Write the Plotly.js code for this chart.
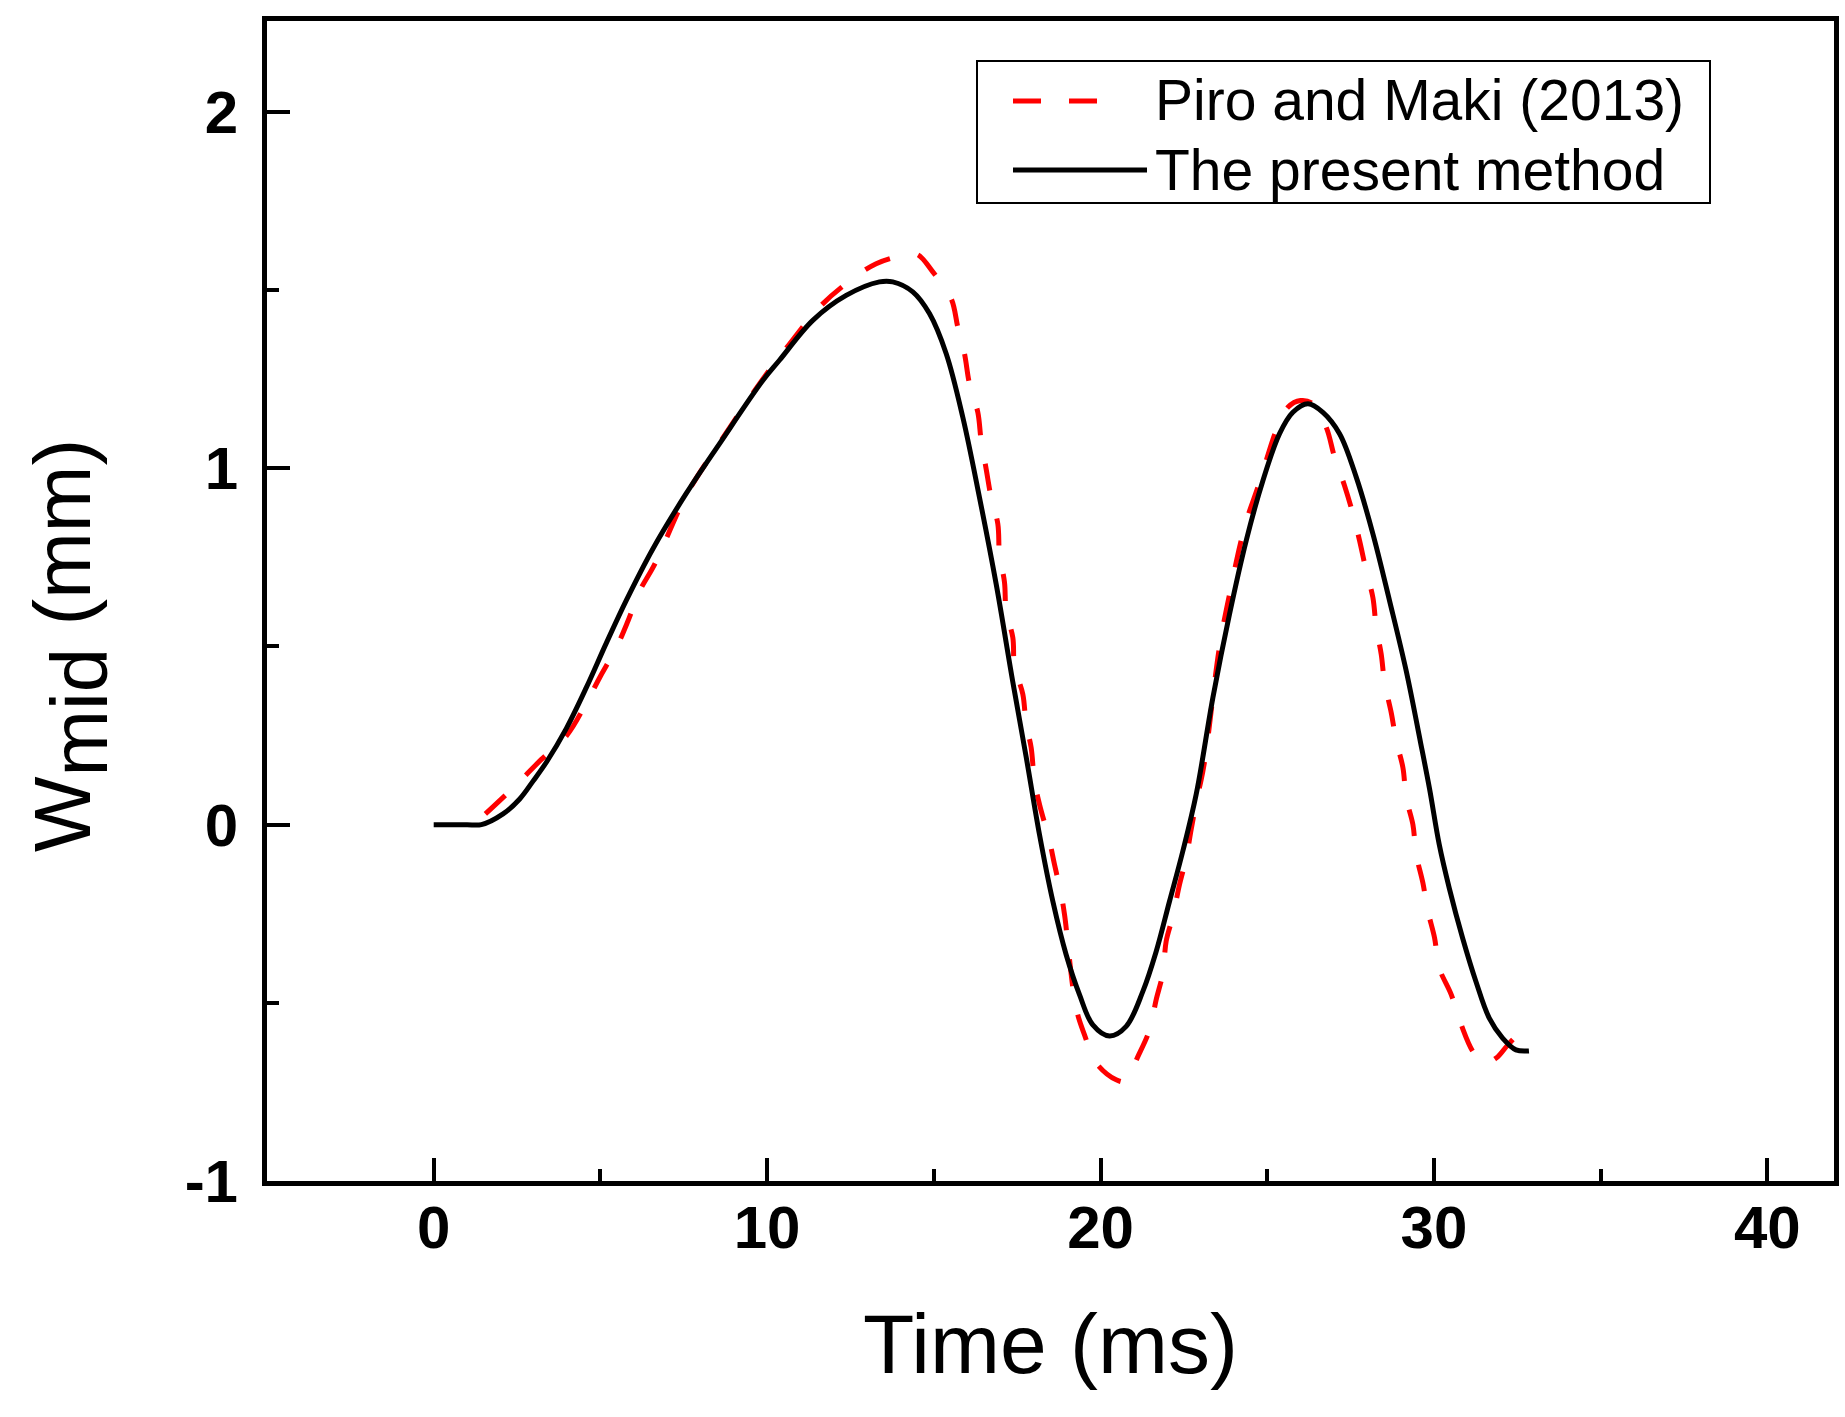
<!DOCTYPE html>
<html>
<head>
<meta charset="utf-8">
<script src="https://cdn.plot.ly/plotly-3.0.1.min.js"></script>
<style>
  html, body { margin: 0; padding: 0; background: #fff; }
  #chart { width: 1845px; height: 1417px; }
</style>
</head>
<body>
<div id="chart"></div>
<script>
// series names
var seriesNames = ["Piro and Maki (2013)", "The present method"];

// Piro and Maki (2013)
var refTime = [1.55, 2.38, 3.23, 3.98, 4.58, 4.98, 5.48, 5.83, 6.18, 6.63, 7.58, 8.58, 9.87,
  10.6, 11.57, 12.37, 13.27, 14.12, 14.5, 14.97, 15.52, 15.72, 15.92, 16.07, 16.32, 16.42,
  16.57, 16.72, 16.92, 16.97, 17.12, 17.17, 17.37, 17.42, 17.67, 17.77, 17.92, 18.02, 18.17,
  18.47, 18.62, 18.82, 18.92, 19.27, 19.52, 19.87, 20.47, 20.75, 21.12, 21.47, 21.67, 21.87,
  21.97, 22.17, 22.37, 22.57, 22.72, 22.87, 23.07, 23.17, 23.57, 23.9, 24.2, 24.4, 24.72,
  24.97, 25.27, 25.62, 26.0, 26.37, 26.77, 27.02, 27.32, 27.57, 27.77, 27.97, 28.17, 28.27,
  28.42, 28.52, 28.72, 28.87, 29.07, 29.17, 29.37, 29.47, 29.67, 29.82, 30.02, 30.16, 30.52,
  30.82, 31.17, 31.5, 31.87, 32.2, 32.55];
var refW = [0.03, 0.103, 0.183, 0.249, 0.342, 0.413, 0.497, 0.572, 0.656, 0.731, 0.925, 1.072, 1.25,
  1.34, 1.452, 1.518, 1.574, 1.598, 1.60, 1.551, 1.476, 1.396, 1.322, 1.237, 1.157, 1.078,
  0.998, 0.918, 0.844, 0.759, 0.68, 0.60, 0.525, 0.445, 0.366, 0.282, 0.216, 0.122, 0.057,
  -0.046, -0.112, -0.196, -0.252, -0.515, -0.59, -0.669, -0.716, -0.72, -0.651, -0.576, -0.491, -0.417,
  -0.327, -0.257, -0.168, -0.093, -0.013, 0.061, 0.150, 0.207, 0.50, 0.66, 0.79, 0.86, 0.947,
  1.022, 1.106, 1.171, 1.19, 1.181, 1.115, 1.031, 0.951, 0.872, 0.797, 0.712, 0.637, 0.553,
  0.478, 0.399, 0.314, 0.235, 0.160, 0.075, 0.0, -0.084, -0.164, -0.243, -0.318, -0.402, -0.477,
  -0.562, -0.637, -0.67, -0.655, -0.62, -0.585];

// The present method
var presTime = [0.0, 0.5, 1.0, 1.43, 2.08, 2.58, 2.98, 3.38, 3.98, 4.58, 5.18, 5.78, 6.58, 7.58, 8.58,
  9.87, 10.37, 11.37, 12.37, 13.37, 13.77, 14.37, 14.87, 15.37, 15.87, 16.37, 16.87, 17.37,
  17.77, 18.17, 18.57, 18.97, 19.37, 19.77, 20.27, 20.77, 21.27, 21.67, 22.07, 22.47, 22.87,
  23.37, 23.87, 24.37, 24.87, 25.37, 25.77, 26.22, 26.67, 27.17, 27.67, 28.17, 28.67, 29.17,
  29.6, 29.87, 30.16, 30.46, 30.86, 31.26, 31.66, 32.06, 32.46, 32.85];
var presW = [0.0, 0.0, 0.0, 0.0, 0.03, 0.072, 0.122, 0.175, 0.27, 0.385, 0.51, 0.63, 0.775, 0.93, 1.07,
  1.246, 1.303, 1.415, 1.485, 1.523, 1.523, 1.495, 1.434, 1.322, 1.143, 0.918, 0.675, 0.40,
  0.19, -0.028, -0.215, -0.365, -0.477, -0.562, -0.593, -0.566, -0.468, -0.356, -0.215, -0.074, 0.085,
  0.356, 0.591, 0.797, 0.965, 1.097, 1.157, 1.181, 1.157, 1.097, 0.975, 0.816, 0.628, 0.431,
  0.23, 0.10, -0.056, -0.178, -0.318, -0.44, -0.543, -0.599, -0.632, -0.635];

var xTickVals = [0, 10, 20, 30, 40];
var yTickVals = [-1, 0, 1, 2];

var traces = [
  {
    type: "scatter", mode: "lines", name: seriesNames[0],
    x: refTime, y: refW,
    line: { color: "#ff0000", width: 5, dash: "27px,29px", shape: "spline", smoothing: 1 },
    showlegend: false
  },
  {
    type: "scatter", mode: "lines", name: seriesNames[1],
    x: presTime, y: presW,
    line: { color: "#000000", width: 5, shape: "spline", smoothing: 1 },
    showlegend: false
  }
];

// plot box in pixels, used for the hand drawn legend
var L = 267, R = 1834, T = 21, B = 1181;
function px(x) { return (x - L) / (R - L); }
function py(y) { return (B - y) / (B - T); }

var tickFont = { family: "Arial, 'Liberation Sans', sans-serif", size: 60, color: "#000", weight: "bold" };
var textFont = "Arial, 'Liberation Sans', sans-serif";

var layout = {
  width: 1845,
  height: 1417,
  margin: { l: L, r: 1845 - R, t: T, b: 1417 - B },
  paper_bgcolor: "#fff",
  plot_bgcolor: "#fff",
  showlegend: false,
  xaxis: {
    range: [-5, 42],
    tickvals: xTickVals,
    ticktext: xTickVals.map(String),
    ticks: "inside", ticklen: 23, tickwidth: 4, tickcolor: "#000",
    minor: { dtick: 5, tick0: 0, ticks: "inside", ticklen: 12, tickwidth: 4, tickcolor: "#000" },
    showline: true, linewidth: 5, linecolor: "#000", mirror: true,
    showgrid: false, zeroline: false,
    tickfont: tickFont,
    ticklabelstandoff: -10,
    title: { text: "Time (ms)", font: { family: textFont, size: 84, color: "#000" }, standoff: 56 }
  },
  yaxis: {
    range: [-1, 2.255],
    tickvals: yTickVals,
    ticktext: yTickVals.map(String),
    ticks: "inside", ticklen: 23, tickwidth: 4, tickcolor: "#000",
    minor: { dtick: 0.5, tick0: 0, ticks: "inside", ticklen: 12, tickwidth: 4, tickcolor: "#000" },
    showline: true, linewidth: 5, linecolor: "#000", mirror: true,
    showgrid: false, zeroline: false,
    tickfont: tickFont,
    ticklabelstandoff: 12,
    title: {
      text: "W<sub><span style=\"font-size:80px\">mid</span></sub> (mm)&nbsp;&nbsp;&nbsp;&nbsp;",
      font: { family: textFont, size: 80, color: "#000" },
      standoff: 69
    }
  },
  shapes: [
    { type: "rect", xref: "paper", yref: "paper", x0: px(977), x1: px(1710), y0: py(203), y1: py(61),
      line: { color: "#000", width: 2 }, fillcolor: "rgba(0,0,0,0)" },
    { type: "line", xref: "paper", yref: "paper", x0: px(1013), x1: px(1101), y0: py(101), y1: py(101),
      line: { color: "#ff0000", width: 5, dash: "28px,28px" } },
    { type: "line", xref: "paper", yref: "paper", x0: px(1013), x1: px(1147), y0: py(170), y1: py(170),
      line: { color: "#000", width: 5 } }
  ],
  annotations: [
    { xref: "paper", yref: "paper", x: px(1153), y: py(100), xanchor: "left", yanchor: "middle",
      text: seriesNames[0], showarrow: false, font: { family: textFont, size: 57, color: "#000" } },
    { xref: "paper", yref: "paper", x: px(1153), y: py(170), xanchor: "left", yanchor: "middle",
      text: seriesNames[1], showarrow: false, font: { family: textFont, size: 57, color: "#000" } }
  ]
};

Plotly.newPlot("chart", traces, layout, { displayModeBar: false, staticPlot: true });
</script>
</body>
</html>
